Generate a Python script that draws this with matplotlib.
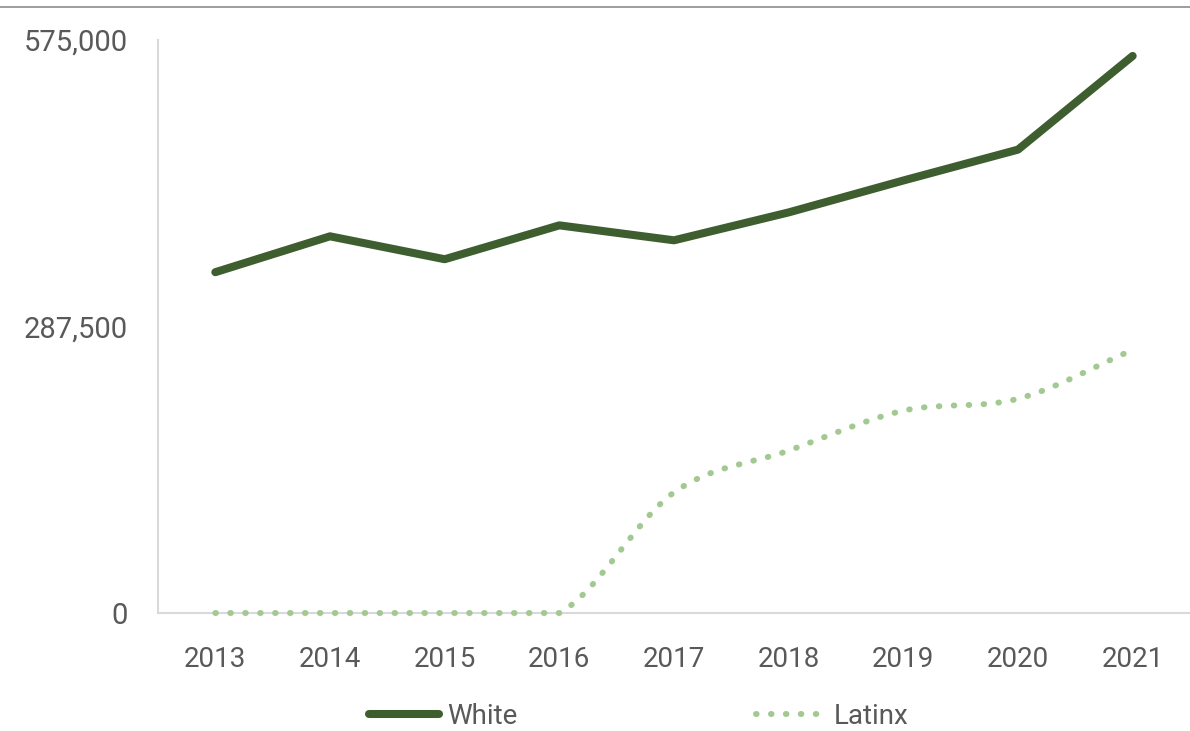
import matplotlib
matplotlib.use("Agg")
import matplotlib.pyplot as plt
from matplotlib.path import Path
from matplotlib.patches import PathPatch
from matplotlib.lines import Line2D
from matplotlib.ticker import FuncFormatter

# data
years = ["2013", "2014", "2015", "2016", "2017", "2018", "2019", "2020", "2021"]
white = [342000, 378000, 355000, 389000, 374000, 402000, 434000, 465000, 559000]
latinx = [0, 0, 0, 0, 121000, 163000, 203000, 215000, 264000]

WHITE_COLOR = "#3e5e2f"
LATINX_COLOR = "#a3c993"
TEXT_COLOR = "#595959"
DOTS = (0, (0.1, 2.4))

plt.rcParams["font.family"] = ["Roboto", "DejaVu Sans"]


def smooth_path(xs, ys):
    """Bezier path through the points, like Excel's smoothed line."""
    n = len(xs)
    tangents = []
    for i in range(n):
        if i == 0:
            tangents.append(ys[1] - ys[0])
        elif i == n - 1:
            tangents.append(ys[-1] - ys[-2])
        else:
            tangents.append((ys[i + 1] - ys[i - 1]) / 2.0)
    verts = [(xs[0], ys[0])]
    codes = [Path.MOVETO]
    for i in range(n - 1):
        dx = xs[i + 1] - xs[i]
        t0, t1 = tangents[i], tangents[i + 1]
        if ys[i] == ys[i + 1]:
            t0 = t1 = 0.0
        verts += [(xs[i] + dx / 3.0, ys[i] + t0 / 3.0),
                  (xs[i + 1] - dx / 3.0, ys[i + 1] - t1 / 3.0),
                  (xs[i + 1], ys[i + 1])]
        codes += [Path.CURVE4] * 3
    return Path(verts, codes)


fig = plt.figure(figsize=(11.9, 7.31), dpi=100)
ax = fig.add_axes([158 / 1190, 1 - 613 / 731, 1 - 158 / 1190, (613 - 40) / 731])

x = list(range(len(years)))
ax.plot(x, white, color=WHITE_COLOR, linewidth=5.8, solid_capstyle="round",
        solid_joinstyle="round", label="White", zorder=3)

latinx_patch = PathPatch(smooth_path(x, latinx), facecolor="none", edgecolor=LATINX_COLOR,
                         linewidth=4.3, linestyle=DOTS, capstyle="round", zorder=3,
                         clip_on=False)
ax.add_patch(latinx_patch)

ax.set_xlim(-0.5, len(years) - 0.5)
ax.set_ylim(0, 575000)
ax.set_xticks(x)
ax.set_xticklabels(years)
ax.set_yticks([0, 287500, 575000])
ax.yaxis.set_major_formatter(FuncFormatter(lambda v, p: f"{int(v):,}"))

ax.tick_params(axis="x", length=0, pad=24, labelsize=20, labelcolor=TEXT_COLOR)
ax.tick_params(axis="y", length=0, pad=22, labelsize=21, labelcolor=TEXT_COLOR)

for side in ["top", "right"]:
    ax.spines[side].set_visible(False)
for side in ["left", "bottom"]:
    ax.spines[side].set_color("#d9d9d9")
    ax.spines[side].set_linewidth(1.5)

handles = [
    Line2D([], [], color=WHITE_COLOR, linewidth=5.8, solid_capstyle="round"),
    Line2D([], [], color=LATINX_COLOR, linewidth=4.3, linestyle=DOTS,
           dash_capstyle="round"),
]
leg = fig.legend(handles, ["White", "Latinx"], loc="center", bbox_to_anchor=(0.537, 1 - 716 / 731),
                 ncol=2, frameon=False, fontsize=20, handlelength=2.5, handletextpad=0.3,
                 columnspacing=8.6, labelcolor=TEXT_COLOR)

# thin rule across the top of the figure
fig.add_artist(Line2D([0, 1], [1 - 7 / 731, 1 - 7 / 731], transform=fig.transFigure,
                      color="#8c8c8c", linewidth=1.2))

fig.savefig("out.png", dpi=100)
